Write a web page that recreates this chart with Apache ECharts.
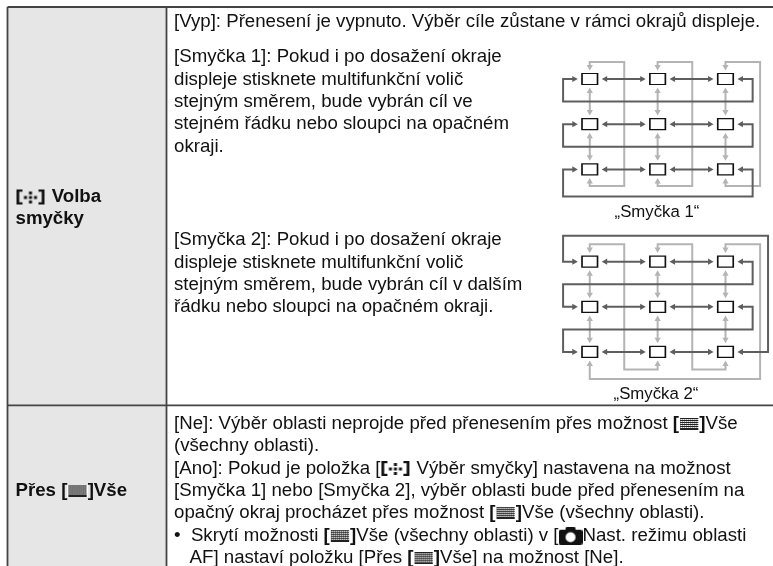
<!DOCTYPE html>
<html><head><meta charset="utf-8">
<style>html,body{margin:0;padding:0;background:#fff;overflow:hidden}#c{width:773px;height:566px}</style>
<script src="https://cdn.jsdelivr.net/npm/echarts@6/dist/echarts.min.js"></script>
</head><body><div id="c"></div>
<script>
const headerLabels = [
  { text: '{d| }{b| Volba}', row: 197 },
  { text: '{b|smyčky}', row: 219 },
  { text: '{b|Přes [}{g| }{b|]Vše}', row: 490.5 }
];
const bodyLines = [
  ['[Vyp]: Přenesení je vypnuto. Výběr cíle zůstane v rámci okrajů displeje.', 21.5],
  ['[Smyčka 1]: Pokud i po dosažení okraje', 57.2],
  ['displeje stisknete multifunkční volič', 79.5],
  ['stejným směrem, bude vybrán cíl ve', 102],
  ['stejném řádku nebo sloupci na opačném', 124.3],
  ['okraji.', 146.5],
  ['[Smyčka 2]: Pokud i po dosažení okraje', 240],
  ['displeje stisknete multifunkční volič', 262.5],
  ['stejným směrem, bude vybrán cíl v dalším', 284.8],
  ['řádku nebo sloupci na opačném okraji.', 307],
  ['[Ne]: Výběr oblasti neprojde před přenesením přes možnost {bb|[}{g| }{bb|]}Vše', 424],
  ['(všechny oblasti).', 446],
  ['[Ano]: Pokud je položka [{d| } Výběr smyčky] nastavena na možnost', 468.5],
  ['[Smyčka 1] nebo [Smyčka 2], výběr oblasti bude před přenesením na', 491.3],
  ['opačný okraj procházet přes možnost {bb|[}{g| }{bb|]}Vše (všechny oblasti).', 512.8],
  ['•  Skrytí možnosti {bb|[}{g| }{bb|]}Vše (všechny oblasti) v [{cam| }Nast. režimu oblasti', 535.7],
  ['   AF] nastaví položku [Přes {bb|[}{g| }{bb|]}Vše] na možnost [Ne].', 558.3]
];
const captions = ['„Smyčka 1“', '„Smyčka 2“'];
const boxCols = [0, 1, 2];
const boxRows = [0, 1, 2];
const hTip = 0.176, vTip = 0.19;
const loop1Dark = [
  [[2.176,0],[2.4,0],[2.4,0.5],[-0.393,0.5],[-0.393,0],[-0.176,0]],
  [[2.176,1],[2.4,1],[2.4,1.5],[-0.393,1.5],[-0.393,1],[0-0.176,1]],
  [[2.176,2],[2.4,2],[2.4,2.6],[-0.393,2.6],[-0.393,2],[-0.176,2]]
];
const loop1Light = [
  [[0,-0.19],[0,-0.376],[0.508,-0.376],[0.508,2.37],[0,2.37],[0,2.19]],
  [[1,-0.19],[1,-0.376],[1.51,-0.376],[1.51,2.37],[1,2.37],[1,2.19]],
  [[2,-0.19],[2,-0.376],[2.51,-0.376],[2.51,2.37],[2,2.37],[2,2.19]]
];
const loop2Dark = [
  [[-0.176,0],[-0.393,0],[-0.393,-0.576],[2.627,-0.576],[2.627,2],[2.176,2]],
  [[2.176,0],[2.4,0],[2.4,0.5],[-0.393,0.5],[-0.393,1],[-0.176,1]],
  [[2.176,1],[2.4,1],[2.4,1.5],[-0.393,1.5],[-0.393,2],[-0.176,2]]
];
const loop2Light = [
  [[0,-0.19],[0,-0.385],[0.508,-0.385],[0.508,2.39],[1,2.39],[1,2.19]],
  [[1,-0.19],[1,-0.385],[1.51,-0.385],[1.51,2.39],[2,2.39],[2,2.19]],
  [[2,-0.19],[2,-0.385],[2.51,-0.385],[2.51,2.6],[0,2.6],[0,2.19]]
];
const DARK = '#5e5e5e', LIGHT = '#b4b4b4', BORDER = '#444444', FONT = '"Liberation Sans", Arial, sans-serif';
const FS = 18.67;
function makeInnerPaths() {
  const dark = [], light = [];
  for (const r of boxRows) for (const c of [0, 1]) dark.push([[c + hTip, r], [c + 1 - hTip, r]]);
  for (const c of boxCols) for (const r of [0, 1]) light.push([[c, r + vTip], [c, r + 1 - vTip]]);
  return { dark, light };
}
const inner = makeInnerPaths();
function arrow(tip, prev, color) {
  const dx = tip[0] - prev[0], dy = tip[1] - prev[1], len = Math.hypot(dx, dy) || 1;
  const ux = dx / len, uy = dy / len, L = 5.5, W = 3.1;
  return { type: 'polygon', shape: { points: [tip,
    [tip[0] - ux * L + uy * W, tip[1] - uy * L - ux * W],
    [tip[0] - ux * L - uy * W, tip[1] - uy * L + ux * W]] }, style: { fill: color } };
}
function pathSeries(gridIndex, paths, color, z) {
  return {
    type: 'custom', xAxisIndex: gridIndex, yAxisIndex: gridIndex, clip: false, z, silent: true,
    encode: { x: 0, y: 1 },
    data: paths.map((p, i) => [p[0][0], p[0][1], i]),
    renderItem(params, api) {
      const pts = paths[api.value(2)].map(p => api.coord(p));
      const n = pts.length;
      const trim = (a, b) => { const d = Math.hypot(a[0]-b[0], a[1]-b[1]) || 1; return [a[0] + (b[0]-a[0]) / d * 4, a[1] + (b[1]-a[1]) / d * 4]; };
      const line = pts.slice(); line[0] = trim(pts[0], pts[1]); line[n-1] = trim(pts[n-1], pts[n-2]);
      return { type: 'group', children: [
        { type: 'polyline', shape: { points: line }, style: { stroke: color, lineWidth: 2, fill: null, lineJoin: 'miter' } },
        arrow(pts[0], pts[1], color), arrow(pts[n-1], pts[n-2], color)
      ] };
    }
  };
}
function boxSeries(gridIndex) {
  const d = [];
  for (const r of boxRows) for (const c of boxCols) d.push([c, r]);
  return { type: 'scatter', xAxisIndex: gridIndex, yAxisIndex: gridIndex, data: d, symbol: 'rect', symbolSize: [15.5, 11],
    itemStyle: { color: '#fff', borderColor: '#111', borderWidth: 1.4, opacity: 1 }, z: 5, silent: true, clip: false };
}
function canvasIcon(w, h, draw) {
  const cv = document.createElement('canvas'); cv.width = w; cv.height = h;
  draw(cv.getContext('2d'), w, h); return cv;
}
const gridIcon = canvasIcon(20, 12, (x, w, h) => {
  x.fillStyle = '#fff'; x.fillRect(0, 0, w, h);
  x.fillStyle = '#222';
  x.fillRect(1, 0, w - 2, 1); x.fillRect(1, h - 1, w - 2, 1);
  for (let j = 2; j < h - 1; j += 2) x.fillRect(1, j, w - 2, 1);
  x.fillStyle = '#999';
  for (let j = 1; j < h - 1; j += 2) for (let i = 1; i < w - 1; i += 2) x.fillRect(i, j, 1, 1);
});
const dotsIcon = canvasIcon(31, 17, (x, W, h) => {
  const w = 30;
  x.fillStyle = '#111';
  x.fillRect(1, 1, 2.8, 15); x.fillRect(1, 1, 6, 2.2); x.fillRect(1, 13.8, 6, 2.2);
  x.fillRect(w-3.8, 1, 2.8, 15); x.fillRect(w-7, 1, 6, 2.2); x.fillRect(w-7, 13.8, 6, 2.2);
  x.fillRect(8.5, 7.5, 3, 3); x.fillRect(w-11.5, 7.5, 3, 3);
  x.fillRect(13.5, 3, 3, 3); x.fillRect(13.5, 7.5, 3, 3); x.fillRect(13.5, 12, 3, 3);
});
const camIcon = canvasIcon(24, 18, (x, w, h) => {
  x.fillStyle = '#111';
  x.beginPath(); x.roundRect(0, 3, w, h - 3, 2); x.fill();
  x.beginPath(); x.roundRect(7, 0, 10, 5, 1.5); x.fill();
  x.fillStyle = '#fff'; x.beginPath(); x.arc(12, 10.5, 5, 0, 7); x.fill();
});
const rich = {
  b: { fontFamily: FONT, fontSize: FS, fontWeight: 'bold', fill: '#111' },
  bb: { fontFamily: FONT, fontSize: FS, fontWeight: 'bold', fill: '#111' },
  g: { width: 20.3, height: 12, backgroundColor: { image: gridIcon }, fontSize: 8 },
  d: { width: 31, height: 17, backgroundColor: { image: dotsIcon }, fontSize: 8 },
  cam: { width: 24, height: 18, backgroundColor: { image: camIcon }, fontSize: 8 }
};
function textEl(text, x, y, extra) {
  return { type: 'text', z: 10, silent: true, style: Object.assign({ text, x, y, rich, fill: '#111', fontFamily: FONT, fontSize: FS,
    verticalAlign: 'middle', align: 'left' }, extra || {}) };
}
function rule(x1, y1, x2, y2) {
  return { type: 'line', z: 8, silent: true, shape: { x1, y1, x2, y2 }, style: { stroke: BORDER, lineWidth: 1.8 } };
}
const graphics = [
  { type: 'rect', z: 1, silent: true, shape: { x: 7, y: 7, width: 159, height: 559 }, style: { fill: '#e6e6e6' } },
  rule(7.5, 7, 773, 7), rule(7.5, 7, 7.5, 566), rule(166.5, 7, 166.5, 566), rule(7.5, 405.3, 773, 405.3)
];
headerLabels.forEach(l => graphics.push(textEl(l.text, 15.5, l.row, { fontWeight: 'bold' })));
bodyLines.forEach(l => graphics.push(textEl(l[0], 174, l[1])));
graphics.push(textEl(captions[0], 657, 212, { align: 'center', fontSize: 16.8 }));
graphics.push(textEl(captions[1], 656, 394.5, { align: 'center', fontSize: 16.8 }));
const axisX = i => ({ type: 'value', gridIndex: i, min: -1, max: 2.7, show: false });
const axisY = i => ({ type: 'value', gridIndex: i, min: -1, max: 3, inverse: true, show: false });
const chart = echarts.init(document.getElementById('c'), null, { renderer: 'canvas', width: 773, height: 566 });
chart.setOption({
  animation: false, backgroundColor: '#fff',
  grid: [
    { left: 521.9, top: 33.8, width: 251.6, height: 180.8 },
    { left: 521.9, top: 216.5, width: 251.6, height: 180.6 }
  ],
  xAxis: [axisX(0), axisX(1)], yAxis: [axisY(0), axisY(1)],
  graphic: { elements: graphics },
  series: [
    pathSeries(0, inner.light.concat(loop1Light), LIGHT, 2),
    pathSeries(0, inner.dark.concat(loop1Dark), DARK, 3),
    boxSeries(0),
    pathSeries(1, inner.light.concat(loop2Light), LIGHT, 2),
    pathSeries(1, inner.dark.concat(loop2Dark), DARK, 3),
    boxSeries(1)
  ]
});
</script></body></html>
